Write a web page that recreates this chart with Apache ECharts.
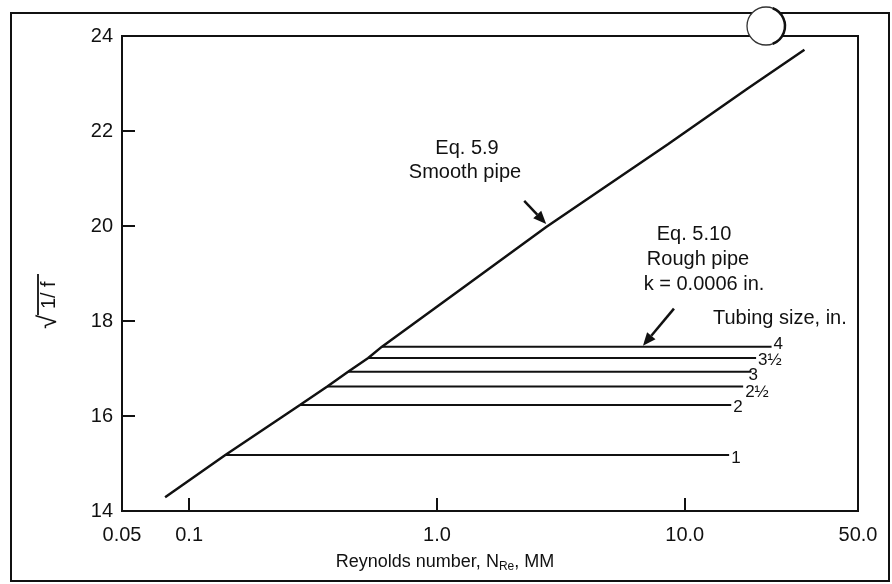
<!DOCTYPE html>
<html>
<head>
<meta charset="utf-8">
<script src="https://cdn.jsdelivr.net/npm/echarts@6/dist/echarts.min.js"></script>
<style>
  html, body { margin: 0; padding: 0; background: #fff; }
  #chart { width: 892px; height: 584px; }
</style>
</head>
<body>
<div id="chart"></div>
<script>
// Smooth-pipe friction curve (Eq. 5.9): Reynolds number (millions) vs sqrt(1/f)
const smoothRe = [0.08, 0.14, 0.28, 0.361, 0.438, 0.528, 0.60, 1.29, 2.76, 8.55, 18.0, 30.4];
const smoothY  = [14.29, 15.18, 16.23, 16.62, 16.93, 17.22, 17.46, 18.72, 19.98, 21.72, 22.90, 23.71];

// Rough-pipe plateaus (Eq. 5.10, k = 0.0006 in.), one per tubing size
const tubingSizes  = ['1', '2', '2½', '3', '3½', '4'];
const roughStartRe = [0.14, 0.28, 0.361, 0.438, 0.528, 0.60];
const roughEndRe   = [15.1, 15.4, 17.2, 18.6, 19.4, 22.4];
const roughY       = [15.18, 16.23, 16.62, 16.93, 17.22, 17.46];

// Axis ticks
const xTickValues = [0.05, 0.1, 1, 10, 50];
const xTickLabels = ['0.05', '0.1', '1.0', '10.0', '50.0'];
const yTicks = [14, 16, 18, 20, 22, 24];

const FONT = '"Liberation Sans", Arial, Helvetica, sans-serif';
const INK = '#111';

const xAxisMin = 0.0536;
const xAxisMax = 50;

function xLabel(v) {
  let best = 0, bd = Infinity;
  xTickValues.forEach((t, i) => {
    const d = Math.abs(Math.log10(v) - Math.log10(t));
    if (d < bd) { bd = d; best = i; }
  });
  return xTickLabels[best];
}

// where each size label sits relative to the end of its line
const endLabelOffset = { '1': [0, 3], '2': [0, 2], '2½': [0, 6], '3': [-5, 3], '3½': [0, 2], '4': [0, -2] };

const series = [{
  name: 'Smooth pipe',
  type: 'line',
  data: smoothRe.map((x, i) => [x, smoothY[i]]),
  symbol: 'none',
  lineStyle: { color: INK, width: 2.5 },
  silent: true,
  z: 3
}];

tubingSizes.forEach((s, i) => {
  series.push({
    name: s,
    type: 'line',
    data: [[roughStartRe[i], roughY[i]], [roughEndRe[i], roughY[i]]],
    symbol: 'none',
    lineStyle: { color: INK, width: 2 },
    silent: true,
    z: 2,
    endLabel: {
      show: true,
      formatter: () => s,
      color: INK,
      fontFamily: FONT,
      fontSize: 17,
      distance: 2,
      offset: endLabelOffset[s]
    }
  });
});

const chart = echarts.init(document.getElementById('chart'), null, { renderer: 'canvas' });

chart.setOption({
  animation: false,
  backgroundColor: '#fff',
  grid: {
    left: 122, right: 34, top: 36, bottom: 73,
    show: true, borderColor: INK, borderWidth: 2, backgroundColor: 'transparent'
  },
  xAxis: {
    type: 'log',
    logBase: 10,
    min: xAxisMin,
    max: xAxisMax,
    axisLine: { show: true, lineStyle: { color: INK, width: 2 } },
    axisTick: { show: true, inside: true, length: 13, lineStyle: { color: INK, width: 2 } },
    minorTick: { show: false },
    axisLabel: {
      formatter: xLabel, color: INK, fontFamily: FONT, fontSize: 20, margin: 14,
      showMinLabel: true, showMaxLabel: true
    },
    splitLine: { show: false }
  },
  yAxis: {
    type: 'value',
    min: yTicks[0],
    max: yTicks[yTicks.length - 1],
    interval: 2,
    axisLine: { show: true, lineStyle: { color: INK, width: 2 } },
    axisTick: { show: true, inside: true, length: 13, lineStyle: { color: INK, width: 2 } },
    axisLabel: { color: INK, fontFamily: FONT, fontSize: 20, margin: 9 },
    splitLine: { show: false }
  },
  series: series
});

// ---- annotations ----
function arrow(tip, dx, dy, headLen, headHalf) {
  const tail = [tip[0] + dx, tip[1] + dy];
  const L = Math.hypot(dx, dy);
  const ux = -dx / L, uy = -dy / L;
  const base = [tip[0] - ux * headLen, tip[1] - uy * headLen];
  const px = -uy, py = ux;
  return [
    { type: 'line', z: 50, shape: { x1: tail[0], y1: tail[1], x2: base[0], y2: base[1] },
      style: { stroke: INK, lineWidth: 2.5 } },
    { type: 'polygon', z: 50,
      shape: { points: [tip, [base[0] + px * headHalf, base[1] + py * headHalf], [base[0] - px * headHalf, base[1] - py * headHalf]] },
      style: { fill: INK } }
  ];
}

function txt(text, x, y, size, align) {
  return { type: 'text', x: x, y: y, z: 50,
    style: { text: text, fill: INK, font: size + 'px ' + FONT, align: align || 'center', verticalAlign: 'middle' } };
}

const smoothTip = chart.convertToPixel({ seriesIndex: 0 }, [smoothRe[8], smoothY[8]]);
const roughTip = chart.convertToPixel({ seriesIndex: 6 }, [6.78, roughY[5]]);

const graphics = [
  // outer frame of the figure
  { type: 'rect', z: 1, shape: { x: 11, y: 13, width: 878, height: 568 },
    style: { fill: null, stroke: INK, lineWidth: 2 } },

  txt('Eq. 5.9', 467, 148, 20),
  txt('Smooth pipe', 465, 172, 20),
  txt('Eq. 5.10', 694, 234, 20),
  txt('Rough pipe', 698, 259, 20),
  txt('k = 0.0006 in.', 704, 284, 20),
  txt('Tubing size, in.', 713, 318, 20, 'left'),

  // x-axis title with subscript
  { type: 'text', x: 445, y: 562, z: 50,
    style: {
      text: 'Reynolds number, N{sub|Re}, MM',
      fill: INK, font: '18px ' + FONT, align: 'center', verticalAlign: 'middle', lineHeight: 22,
      rich: { sub: { fontSize: 12, fontFamily: FONT, fill: INK, lineHeight: 10, verticalAlign: 'bottom' } }
    } },

  // y-axis title: square root of 1/f, read bottom to top
  { type: 'group', x: 48, y: 300, rotation: Math.PI / 2, z: 50, children: [
    { type: 'text', x: -29, y: 1, style: { text: '√', fill: INK, font: '26px ' + FONT, align: 'left', verticalAlign: 'middle' } },
    { type: 'text', x: -9, y: 1, style: { text: '1', fill: INK, font: '20px ' + FONT, align: 'left', verticalAlign: 'middle' } },
    { type: 'text', x: 2, y: 1, style: { text: '/', fill: INK, font: '20px ' + FONT, align: 'left', verticalAlign: 'middle' } },
    { type: 'text', x: 13, y: 1, style: { text: 'f', fill: INK, font: '20px ' + FONT, align: 'left', verticalAlign: 'middle' } },
    { type: 'line', shape: { x1: -15, y1: -10, x2: 26, y2: -10 }, style: { stroke: INK, lineWidth: 1.8 } }
  ] },

  // binder hole
  { type: 'circle', z: 60, shape: { cx: 766, cy: 26, r: 19 },
    style: { fill: '#fff', stroke: '#333', lineWidth: 1.3 } },
  { type: 'arc', z: 61, shape: { cx: 766, cy: 26, r: 19, startAngle: -Math.PI / 2.6, endAngle: Math.PI / 2.6 },
    style: { fill: null, stroke: '#111', lineWidth: 2.5 } }
]
  .concat(arrow([smoothTip[0], smoothTip[1] - 3], -22, -23, 13, 5.5))
  .concat(arrow([roughTip[0], roughTip[1] - 1], 31, -37, 13, 5.5));

chart.setOption({ graphic: graphics });
</script>
</body>
</html>
